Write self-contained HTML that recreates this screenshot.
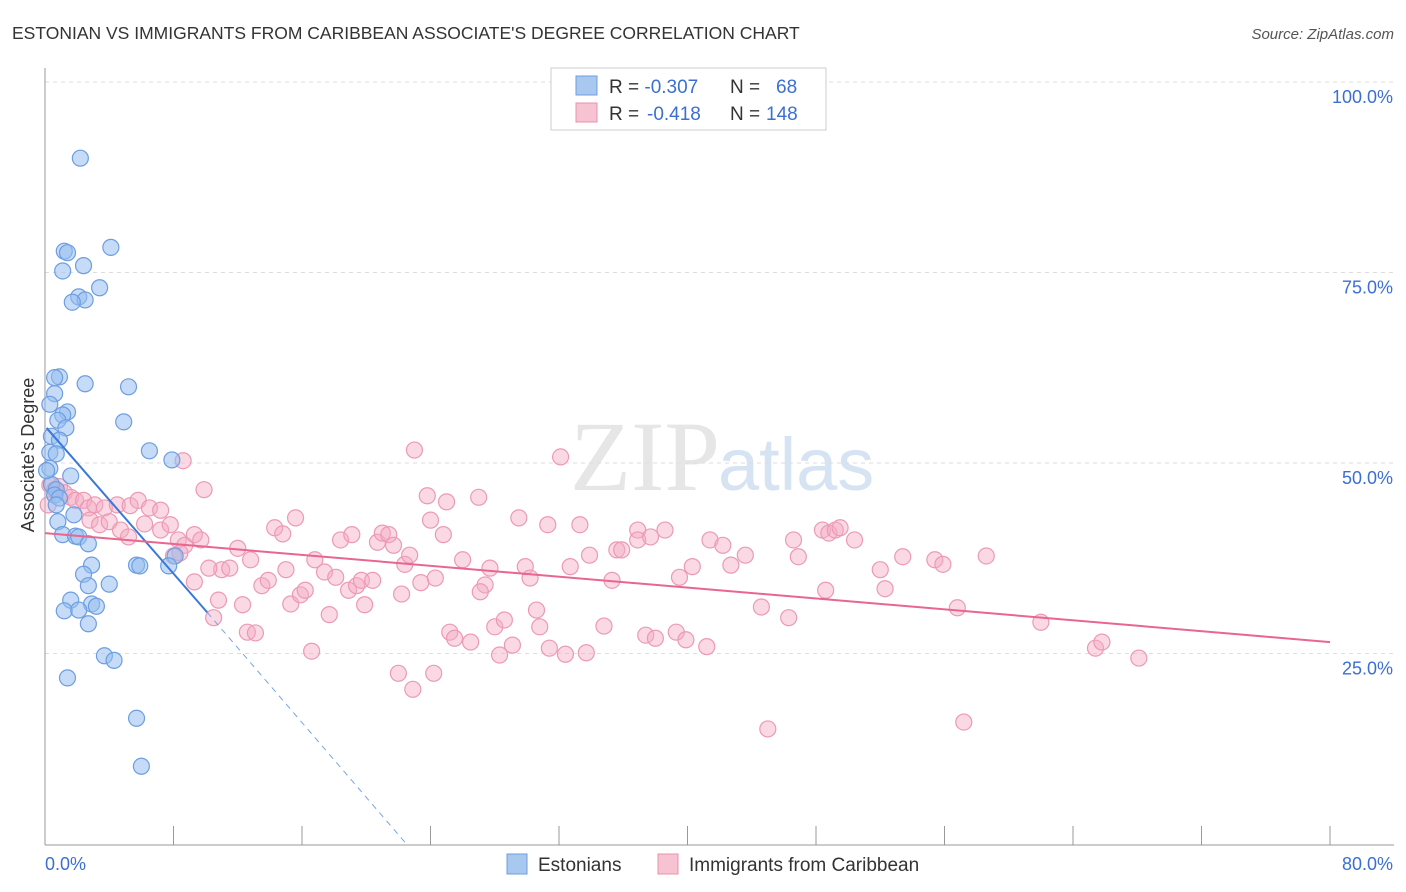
<!DOCTYPE html>
<html><head><meta charset="utf-8"><style>
body{margin:0;background:#fff;font-family:"Liberation Sans",sans-serif;}
#wrap{position:relative;width:1406px;height:892px;overflow:hidden;}
</style></head><body>
<div id="wrap">
<svg id="svg" width="1406" height="892" xmlns="http://www.w3.org/2000/svg">
<text x="12" y="39" font-size="17.5" fill="#333">ESTONIAN VS IMMIGRANTS FROM CARIBBEAN ASSOCIATE'S DEGREE CORRELATION CHART</text>
<text x="1394" y="39" font-size="15" fill="#555" text-anchor="end" font-style="italic">Source: ZipAtlas.com</text>
<text x="720" y="490" font-size="100" fill="#e6e6e6" text-anchor="end" font-family="Liberation Serif">ZIP</text>
<text x="718" y="490" font-size="74" fill="#d6e3f3">atlas</text>
<text transform="translate(34,455) rotate(-90)" font-size="18" fill="#333" text-anchor="middle">Associate's Degree</text>
<g id="grid"></g><g id="pts"></g><g id="trend"></g>
<g>
<rect x="551" y="68" width="275" height="62" fill="#fff" stroke="#ccc"/>
<rect x="576" y="76" width="21" height="19" fill="#a9c8f0" stroke="#6d9ee0"/>
<rect x="576" y="103" width="21" height="19" fill="#f7c3d2" stroke="#e890ab"/>
<text x="609" y="93" font-size="19" fill="#333">R = <tspan fill="#3b6fd4">-0.307</tspan>   <tspan x="730">N = </tspan><tspan x="776" fill="#3b6fd4">68</tspan></text>
<text x="609" y="120" font-size="19" fill="#333">R = <tspan x="647" fill="#3b6fd4">-0.418</tspan><tspan x="730">N = </tspan><tspan x="766" fill="#3b6fd4">148</tspan></text>
</g>
<g>
<rect x="507" y="854" width="20" height="20" fill="#a9c8f0" stroke="#6d9ee0"/>
<text x="538" y="871" font-size="19" fill="#333">Estonians</text>
<rect x="658" y="854" width="20" height="20" fill="#f7c3d2" stroke="#e890ab"/>
<text x="689" y="871" font-size="19" fill="#333">Immigrants from Caribbean</text>
</g>
</svg>
</div>
<script>
const xTicks=[0,8,16,24,32,40,48,56,64,72,80];
const yTicks=[25,50,75,100];
const yTickLabels=["25.0%","50.0%","75.0%","100.0%"];
const xEndLabels=["0.0%","80.0%"];
const estX=[2.2,4.1,1.2,1.4,2.4,1.1,3.4,2.1,2.5,1.7,0.9,0.6,2.5,5.2,0.6,0.3,1.4,1.1,4.9,0.8,1.3,0.4,0.9,6.5,0.3,0.7,7.9,0.3,1.6,0.4,0.7,0.6,0.9,0.7,1.8,0.8,1.1,1.9,2.1,2.7,8.1,2.9,5.7,5.9,7.7,2.4,2.7,4.0,1.6,2.9,3.2,1.2,2.1,2.7,3.7,4.3,1.4,5.7,6.0,0.1];
const estY=[90.0,78.3,77.8,77.6,75.9,75.2,73.0,71.8,71.4,71.1,61.3,61.2,60.4,60.0,59.1,57.7,56.7,56.3,55.4,55.6,54.6,53.5,53.0,51.6,51.4,51.2,50.4,49.3,48.3,47.2,46.5,45.8,45.4,44.5,43.2,42.3,40.6,40.4,40.3,39.4,37.8,36.6,36.6,36.5,36.5,35.4,33.9,34.1,32.0,31.5,31.2,30.6,30.7,28.9,24.7,24.1,21.8,16.5,10.2,49.0];
const carX=[0.3,0.6,0.9,1.2,1.6,1.9,2.4,2.7,3.1,3.7,4.5,5.3,5.8,6.5,7.2,0.2,2.8,3.4,4.0,4.7,5.2,6.2,7.2,7.8,8.6,9.9,8.3,8.7,9.3,9.7,10.5,11.0,11.5,12.0,12.8,13.5,13.9,14.3,14.8,15.0,15.3,15.6,15.9,16.2,16.8,17.4,17.7,18.1,18.4,18.9,19.1,19.4,19.7,19.9,20.4,20.7,21.0,21.4,21.7,22.2,22.4,22.7,23.0,24.0,23.4,23.8,24.3,24.8,25.0,25.2,25.5,26.0,26.5,27.0,27.4,27.7,27.1,28.0,28.3,28.6,29.1,29.5,29.9,30.2,30.6,30.8,31.3,31.4,32.1,32.4,32.7,33.3,33.7,33.9,34.8,35.3,35.6,35.9,36.9,36.9,37.4,37.7,38.0,38.6,39.3,39.5,39.9,40.3,41.2,41.4,42.2,42.7,43.6,44.6,45.0,46.3,46.6,46.9,48.4,48.8,49.2,49.5,48.6,50.4,52.0,52.3,53.4,55.4,55.9,56.8,57.2,58.6,62.0,65.4,65.8,68.1,22.0,22.9,24.2,16.6,12.6,13.1,10.8,12.3,10.2,9.3,8.0,8.4];
const carY=[47.1,46.5,46.9,46.1,45.5,45.1,45.1,44.1,44.5,44.1,44.5,44.4,45.1,44.1,43.8,44.5,42.5,41.9,42.3,41.2,40.3,42.0,41.2,41.9,50.3,46.5,39.9,39.2,40.6,39.9,29.7,36.0,36.2,38.8,37.3,33.9,34.6,41.5,40.7,36.0,31.5,42.8,32.7,33.3,37.3,35.7,30.1,35.0,39.9,33.3,40.6,33.9,34.6,31.4,34.6,39.6,40.8,40.6,39.2,32.8,36.7,37.9,51.7,42.5,34.3,45.7,34.9,40.6,44.9,27.8,27.0,37.3,26.5,45.5,34.0,36.2,33.1,28.5,24.8,29.4,26.1,42.8,36.4,34.9,30.7,28.5,41.9,25.7,50.8,24.9,36.4,41.9,25.1,37.9,28.6,34.6,38.6,38.6,41.2,39.9,27.4,40.3,27.0,41.2,27.8,35.0,26.8,36.4,25.9,39.9,39.2,36.6,37.9,31.1,15.1,29.7,39.9,37.7,41.2,40.8,41.2,41.5,33.3,39.9,36.0,33.5,37.7,37.3,36.7,31.0,16.0,37.8,29.1,25.7,26.5,24.4,22.4,20.3,22.4,25.3,27.8,27.7,32.0,31.4,36.2,34.4,37.8,38.2];
const estTrend=[[0.1,54.6],[10.1,30.4],[22.5,0]];
const carTrend=[[0,40.8],[80,26.5]];
const X=v=>45+v*(1285/80);
const Y=v=>844-v*(762/100);
const NS="http://www.w3.org/2000/svg";
function mk(t,a,p){const e=document.createElementNS(NS,t);for(const k in a)e.setAttribute(k,a[k]);p.appendChild(e);return e;}
const grid=document.getElementById('grid');
yTicks.forEach((t,i)=>{
 const l=mk('line',{x1:45,x2:1394,y1:Y(t),y2:Y(t),stroke:'#ddd','stroke-dasharray':'4,4'},grid);
 
 
 const tx=mk('text',{x:1393,y:Y(t)+21,'font-size':18,fill:'#3b6fd4','text-anchor':'end'},grid);
 tx.textContent=yTickLabels[i];
 
 
});
const ax=mk('line',{x1:45,x2:45,y1:68,y2:845,stroke:'#999'},grid);


const bx=mk('line',{x1:45,x2:1394,y1:845,y2:845,stroke:'#999'},grid);


xTicks.forEach(t=>{
 const l=mk('line',{x1:X(t),x2:X(t),y1:826,y2:845,stroke:'#999'},grid);
 
 
});
[[0,'start',xEndLabels[0]],[80,'end',xEndLabels[1]]].forEach(([v,a,s])=>{
 const tx=mk('text',{x:v==0?X(v):X(v)+63,y:870,'font-size':18,fill:'#3b6fd4','text-anchor':a},grid);
 tx.textContent=s;
 
 
});
const pts=document.getElementById('pts');
carX.forEach((x,i)=>{
 const c=mk('circle',{cx:X(x),cy:Y(carY[i]),r:8,fill:'rgba(245,170,195,0.45)',stroke:'#ec9ab4','stroke-width':1.2},pts);
 
 
});
estX.forEach((x,i)=>{
 const c=mk('circle',{cx:X(x),cy:Y(estY[i]),r:8,fill:'rgba(150,190,240,0.55)',stroke:'#6d9ee0','stroke-width':1.2},pts);
 
 
});
const tr=document.getElementById('trend');
const l1=mk('line',{x1:X(estTrend[0][0]),y1:Y(estTrend[0][1]),x2:X(estTrend[1][0]),y2:Y(estTrend[1][1]),stroke:'#3a78d8','stroke-width':2},tr);


const l2=mk('line',{x1:X(estTrend[1][0]),y1:Y(estTrend[1][1]),x2:X(estTrend[2][0]),y2:Y(estTrend[2][1]),stroke:'#7aa6e0','stroke-width':1,'stroke-dasharray':'6,5'},tr);


const l3=mk('line',{x1:X(carTrend[0][0]),y1:Y(carTrend[0][1]),x2:X(carTrend[1][0]),y2:Y(carTrend[1][1]),stroke:'#e8668f','stroke-width':2},tr);


</script>
</body></html>
